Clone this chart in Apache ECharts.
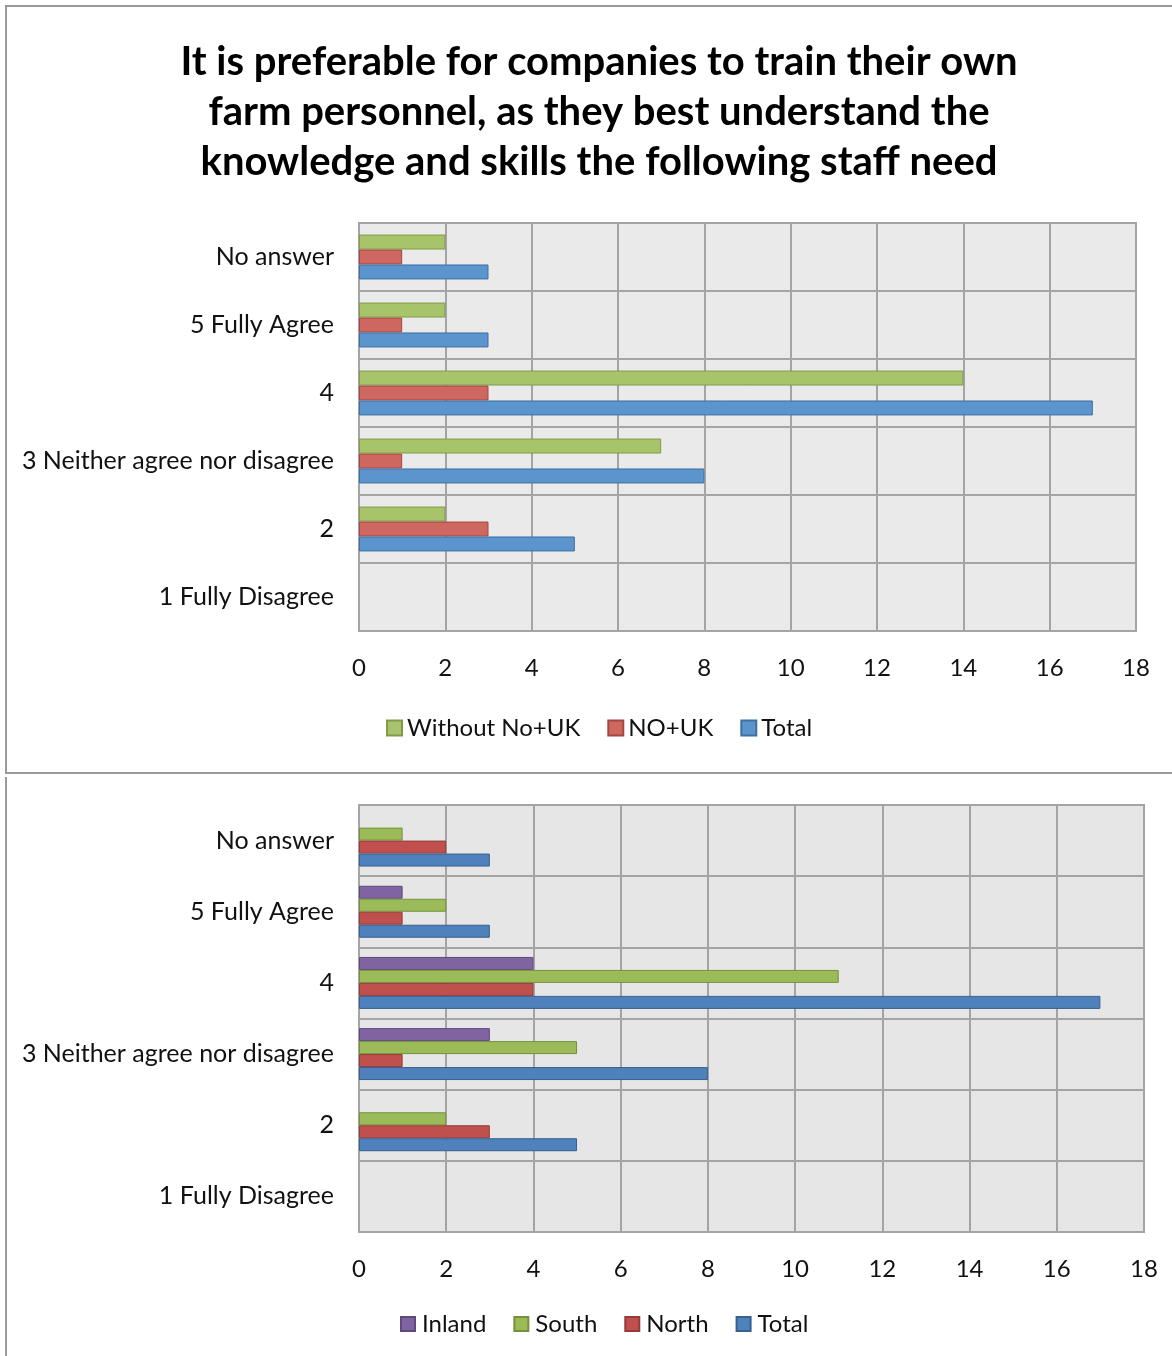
<!DOCTYPE html>
<html>
<head>
<meta charset="utf-8">
<title>Training of farm personnel</title>
<script src="https://cdn.jsdelivr.net/npm/echarts@6/dist/echarts.min.js"></script>
<style>
  html, body { margin: 0; padding: 0; background: #fff; }
  #chart { width: 1172px; height: 1356px; }
</style>
</head>
<body>
<div id="chart"></div>
<script>
// Answer categories, listed bottom to top
const categories = ['1 Fully Disagree', '2', '3 Neither agree nor disagree', '4', '5 Fully Agree', 'No answer'];
const valueTicks = [0, 2, 4, 6, 8, 10, 12, 14, 16, 18];

// Upper chart: respondents by country group
const withoutNoUk = [0, 2, 7, 14, 2, 2];
const noUk = [0, 3, 1, 3, 1, 1];
const totalTop = [0, 5, 8, 17, 3, 3];

// Lower chart: respondents by region
const inland = [0, 0, 3, 4, 1, 0];
const south = [0, 2, 5, 11, 2, 1];
const north = [0, 3, 1, 4, 1, 2];
const totalBottom = [0, 5, 8, 17, 3, 3];

const titleText = 'It is preferable for companies to train their own\nfarm personnel, as they best understand the\nknowledge and skills the following staff need';

const FONT = 'Lato, "Open Sans", sans-serif';
const LABEL_SIZE = 24;
const gridLine = { show: true, lineStyle: { color: '#A4A4A4', width: 2 } };

function valueAxis(gridIndex) {
  return {
    type: 'value', gridIndex: gridIndex,
    min: valueTicks[0], max: valueTicks[valueTicks.length - 1], interval: valueTicks[1] - valueTicks[0],
    axisLine: { show: false }, axisTick: { show: false },
    splitLine: gridLine,
    axisLabel: { color: '#111', fontSize: LABEL_SIZE, fontFamily: FONT, margin: 25 }
  };
}
function categoryAxis(gridIndex) {
  return {
    type: 'category', gridIndex: gridIndex, data: categories,
    axisLine: { show: false }, axisTick: { show: false },
    splitLine: gridLine,
    axisLabel: { color: '#111', fontSize: 25, fontFamily: FONT, margin: 25, padding: [4, 0, 0, 0] }
  };
}
// Zero counts get no outline so that no sliver is drawn on the axis
function barData(values) {
  return values.map(v => (v === 0 ? { value: 0, itemStyle: { borderWidth: 0 } } : v));
}
function bar(name, values, xi, fill, stroke, gapCat) {
  return {
    type: 'bar', name: name, data: barData(values), xAxisIndex: xi, yAxisIndex: xi,
    barGap: '0%', barCategoryGap: gapCat,
    itemStyle: { color: fill, borderColor: stroke, borderWidth: 1 },
    emphasis: { disabled: true }
  };
}
const legendText = { fontFamily: FONT, fontSize: LABEL_SIZE, color: '#111' };

const chart = echarts.init(document.getElementById('chart'), null, { renderer: 'canvas' });
chart.setOption({
  animation: false,
  backgroundColor: '#fff',
  title: {
    text: titleText, left: 594, top: 32, textAlign: 'center',
    textStyle: { fontFamily: FONT, fontWeight: 'bold', fontSize: 40, lineHeight: 50, color: '#000' }
  },
  graphic: [
    { type: 'rect', shape: { x: 6, y: 6, width: 1180, height: 767 }, style: { fill: null, stroke: '#9A9A9A', lineWidth: 2 }, silent: true },
    { type: 'line', shape: { x1: 6, y1: 777, x2: 6, y2: 1360 }, style: { stroke: '#9A9A9A', lineWidth: 2 }, silent: true }
  ],
  grid: [
    { left: 359, top: 223, width: 777, height: 408, show: true, backgroundColor: '#EAEAEA', borderColor: '#A4A4A4', borderWidth: 2 },
    { left: 359, top: 805, width: 785, height: 427, show: true, backgroundColor: '#E6E6E6', borderColor: '#A4A4A4', borderWidth: 2 }
  ],
  xAxis: [valueAxis(0), valueAxis(1)],
  yAxis: [categoryAxis(0), categoryAxis(1)],
  legend: [
    {
      data: ['Without No+UK', 'NO+UK', 'Total'], left: 381, top: 711,
      icon: 'rect', itemWidth: 15, itemHeight: 15, itemGap: 27,
      textStyle: legendText
    },
    {
      data: ['Inland', 'South', 'North', 'Total '], left: 395, top: 1307,
      icon: 'rect', itemWidth: 14, itemHeight: 14, itemGap: 27,
      textStyle: Object.assign({}, legendText, { padding: [0, 0, 0, 2] })
    }
  ],
  series: [
    bar('Without No+UK', withoutNoUk, 0, '#A8C46A', '#7F9B48', '34%'),
    bar('NO+UK', noUk, 0, '#CF6761', '#A44742', '34%'),
    bar('Total', totalTop, 0, '#5C94CD', '#3E70A2', '34%'),
    bar('Inland', inland, 1, '#8064A2', '#5F4A7B', '27%'),
    bar('South', south, 1, '#9BBB59', '#76903F', '27%'),
    bar('North', north, 1, '#C0504D', '#943C39', '27%'),
    bar('Total ', totalBottom, 1, '#4F81BD', '#385F8E', '27%')
  ]
});
</script>
</body>
</html>
